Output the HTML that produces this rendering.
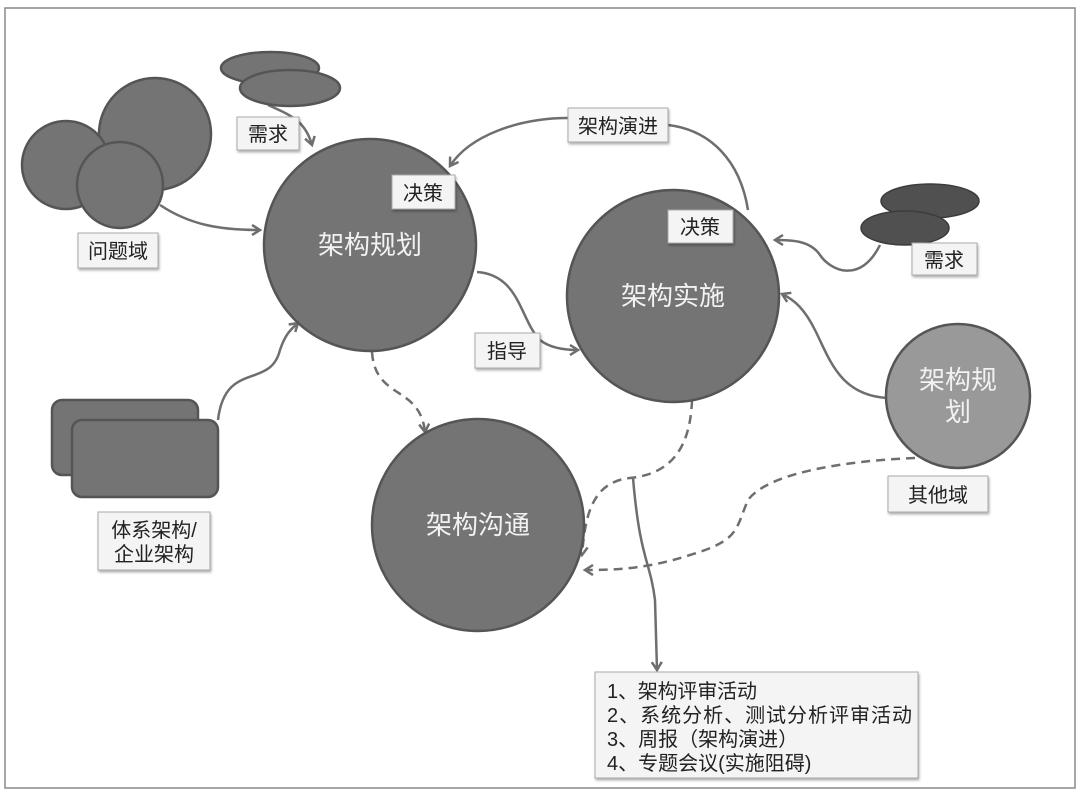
<!DOCTYPE html>
<html><head><meta charset="utf-8"><style>
body{margin:0;background:#fff;}
svg{display:block;font-family:"Liberation Sans","Noto Sans CJK SC",sans-serif;}
</style></head><body>
<svg width="1080" height="795" viewBox="0 0 1080 795" xmlns="http://www.w3.org/2000/svg">
<defs>
<marker id="a" markerWidth="12" markerHeight="12" refX="9" refY="6" orient="auto" markerUnits="userSpaceOnUse">
<path d="M1,1 L9,6 L1,11" fill="none" stroke="#6e6e6e" stroke-width="2.5"/></marker>
<filter id="s" x="-10%" y="-10%" width="130%" height="140%"><feDropShadow dx="1" dy="2" stdDeviation="1.2" flood-color="#000" flood-opacity="0.3"/></filter>
</defs>
<rect x="5" y="8" width="1070" height="780" fill="#fff" stroke="#888" stroke-width="1.5"/>
<g fill="none" stroke="#6e6e6e" stroke-width="2.5">
<path d="M160,205 C190,225 220,230 260,230" marker-end="url(#a)"/>
<path d="M268,105 C290,115 305,120 312,145" marker-end="url(#a)"/>
<path d="M748,210 C740,160 710,130 668,125"/>
<path d="M568,118 C520,118 470,135 450,166" marker-end="url(#a)"/>
<path d="M477,272 C520,275 520,320 540,340 C550,348 565,350 578,350" marker-end="url(#a)"/>
<path d="M218,420 C225,360 270,390 280,350 C285,335 290,330 298,323" marker-end="url(#a)"/>
<path d="M880,245 C860,285 830,270 820,255 C810,240 790,240 775,240" marker-end="url(#a)"/>
<path d="M887,398 C840,395 830,360 815,330 C805,310 795,300 782,294" marker-end="url(#a)"/>
<path d="M633,478 C640,560 650,560 655,600 L657,670" marker-end="url(#a)"/>
</g>
<g fill="none" stroke="#6e6e6e" stroke-width="2.5" stroke-dasharray="9,6">
<path d="M372,352 C375,400 420,385 425,432" marker-end="url(#a)"/>
<path d="M692,400 C690,460 660,475 630,478 C590,482 585,520 582,555" marker-end="url(#a)"/>
<path d="M915,458 C860,460 770,470 748,500 C735,530 740,540 690,555 C650,568 620,570 585,570" marker-end="url(#a)"/>
</g>
<g stroke="#555" stroke-width="2.5" fill="#747474">
<circle cx="155" cy="134" r="56"/>
<circle cx="66" cy="165" r="44"/>
<circle cx="120" cy="185" r="43"/>
<ellipse cx="270" cy="68" rx="49" ry="16"/>
<ellipse cx="290" cy="88" rx="50" ry="18"/>
<rect x="52" y="400" width="146" height="75" rx="10"/>
<rect x="72" y="420" width="146" height="77" rx="10"/>
<circle cx="370" cy="245" r="106"/>
<circle cx="673" cy="296" r="106"/>
<circle cx="478" cy="525" r="106"/>
<circle cx="958" cy="396" r="72" fill="#999"/>
</g>
<g fill="#505050" stroke="#3c3c3c" stroke-width="1.5">
<ellipse cx="930" cy="201" rx="49" ry="17"/>
<ellipse cx="905" cy="228" rx="44" ry="17"/>
</g>
<g fill="#f2f2f2" font-size="26" text-anchor="middle">
<text x="370" y="254">架构规划</text>
<text x="673" y="305">架构实施</text>
<text x="478" y="534">架构沟通</text>
<text x="958" y="389">架构规</text>
<text x="958" y="421">划</text>
</g>
<g filter="url(#s)" fill="#f4f4f4" stroke="#aaa" stroke-width="1">
<rect x="237" y="117" width="62" height="33"/>
<rect x="78" y="233" width="80" height="35"/>
<rect x="392" y="175" width="63" height="34"/>
<rect x="668" y="210" width="65" height="33"/>
<rect x="568" y="108" width="100" height="34"/>
<rect x="912" y="243" width="65" height="32"/>
<rect x="475" y="333" width="65" height="35"/>
<rect x="98" y="512" width="112" height="58"/>
<rect x="888" y="476" width="100" height="36"/>
<rect x="595" y="672" width="323" height="106"/>
</g>
<g fill="#222" font-size="20" text-anchor="middle">
<text x="268" y="141">需求</text>
<text x="118" y="258">问题域</text>
<text x="423" y="200">决策</text>
<text x="700" y="234">决策</text>
<text x="618" y="133">架构演进</text>
<text x="944" y="267">需求</text>
<text x="507" y="358">指导</text>
<text x="154" y="537">体系架构/</text>
<text x="154" y="561">企业架构</text>
<text x="938" y="502">其他域</text>
</g>
<g fill="#222" font-size="20">
<text x="607" y="698" textLength="150">1、架构评审活动</text>
<text x="607" y="722" textLength="305">2、系统分析、测试分析评审活动</text>
<text x="607" y="746">3、周报（架构演进）</text>
<text x="607" y="770">4、专题会议(实施阻碍)</text>
</g>
</svg>
</body></html>
